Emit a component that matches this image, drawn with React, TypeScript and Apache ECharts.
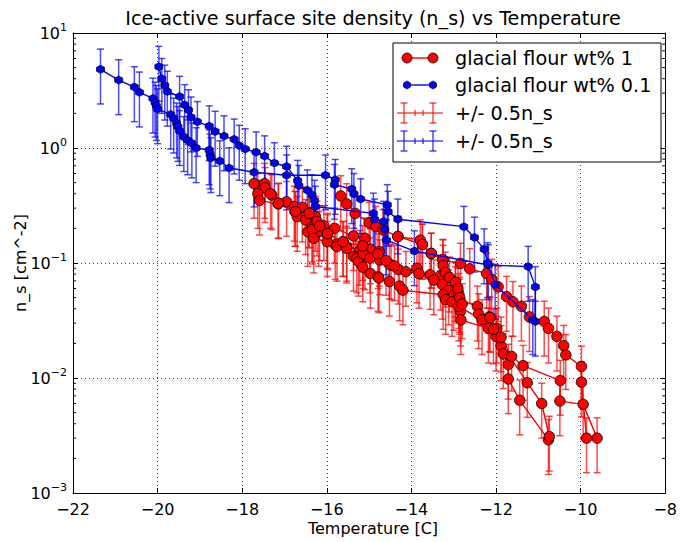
import React, { useEffect, useRef } from "react";
import * as echarts from "echarts";

const FONT = "DejaVu Sans";

// ---- axis ticks ----
const xTicks = [-22, -20, -18, -16, -14, -12, -10, -8];
const yDecades = [0.001, 0.01, 0.1, 1, 10];
const yMinorTicks: number[] = [];
for (let d = 0; d < yDecades.length - 1; d++) {
  for (let m = 2; m <= 9; m++) yMinorTicks.push(m * yDecades[d]);
}

// ---- glacial flour wt% 0.1 (blue) runs ----
const blueA_T = [-19.97, -19.9, -19.83, -19.77, -19.48, -19.36, -19.27, -19.21, -19.06, -18.78, -18.64, -18.43, -18.19, -18.07, -17.93, -17.67, -17.47, -17.24, -16.95, -16.69, -16.66, -16.46, -16.35, -16.29, -16.27, -14.9, -14.87, -14.66, -14.63, -14.59, -13.93, -12.18, -11.24, -11.07, -11.07];
const blueA_N = [5.1, 4.0, 3.5, 3.1, 2.8, 2.37, 2.14, 1.85, 1.69, 1.55, 1.39, 1.27, 1.19, 1.05, 0.98, 0.92, 0.85, 0.74, 0.69, 0.52, 0.47, 0.43, 0.39, 0.35, 0.31, 0.27, 0.24, 0.229, 0.196, 0.158, 0.127, 0.096, 0.093, 0.062, 0.031];

const blueB_T = [-21.35, -20.92, -20.55, -20.43, -20.11, -20.06, -20.03, -20.0, -19.69, -19.62, -19.55, -19.52, -19.48, -19.38, -19.29, -19.19, -19.09, -18.78, -18.76, -18.74, -18.53, -18.31, -17.72, -16.95, -16.03, -15.8, -15.82, -15.41, -15.36, -15.2, -14.57, -14.55, -14.32, -12.76, -12.51, -12.28, -12.2, -12.02, -11.13];
const blueB_N = [4.83, 3.9, 3.39, 3.05, 2.7, 2.49, 2.33, 2.18, 1.96, 1.81, 1.64, 1.53, 1.41, 1.25, 1.17, 1.1, 1.0, 0.96, 0.88, 0.82, 0.77, 0.67, 0.615, 0.58, 0.58, 0.53, 0.48, 0.44, 0.4, 0.36, 0.32, 0.28, 0.24, 0.207, 0.167, 0.132, 0.1, 0.065, 0.032];

// ---- glacial flour wt% 1 (red) runs ----
const redA_T = [-15.67, -15.53, -15.33, -15.0, -14.84, -14.67, -14.32, -13.79, -13.74, -13.53, -13.25, -12.84, -12.62, -12.22, -12.1, -11.95, -11.75, -11.6, -11.4, -11.21, -10.86, -10.76, -10.56, -10.4, -10.35, -9.98, -9.98, -9.86];
const redA_N = [0.383, 0.326, 0.27, 0.224, 0.207, 0.194, 0.17, 0.158, 0.145, 0.121, 0.106, 0.099, 0.089, 0.081, 0.072, 0.062, 0.051, 0.046, 0.042, 0.034, 0.031, 0.027, 0.023, 0.0191, 0.0159, 0.0126, 0.0092, 0.003];

const redB_T = [-17.72, -17.47, -17.46, -17.3, -16.95, -16.77, -16.58, -16.42, -16.27, -16.07, -15.82, -15.37, -15.1, -14.97, -14.76, -14.48, -14.31, -14.13, -13.87, -13.82, -13.56, -13.31, -12.96, -12.86, -12.44, -12.41, -12.16, -11.98, -11.88, -11.83, -11.71, -11.71, -11.44, -10.76];
const redB_N = [0.49, 0.49, 0.45, 0.39, 0.341, 0.31, 0.305, 0.274, 0.253, 0.21, 0.2, 0.172, 0.164, 0.132, 0.126, 0.096, 0.088, 0.084, 0.09, 0.081, 0.079, 0.078, 0.062, 0.048, 0.042, 0.036, 0.034, 0.027, 0.019, 0.0162, 0.0131, 0.0098, 0.0064, 0.0029];

const redC_T = [-17.63, -17.59, -17.15, -16.75, -16.7, -16.5, -16.35, -16.19, -15.99, -15.8, -15.61, -15.53, -15.22, -15.1, -14.75, -14.52, -13.47, -13.27, -13.12, -13.0, -12.88, -12.84, -12.83, -12.18, -12.0, -11.26, -10.92, -10.74];
const redC_N = [0.4, 0.35, 0.326, 0.279, 0.253, 0.237, 0.204, 0.187, 0.175, 0.144, 0.153, 0.139, 0.128, 0.117, 0.106, 0.0975, 0.071, 0.065, 0.058, 0.052, 0.054, 0.038, 0.032, 0.027, 0.023, 0.0091, 0.006, 0.0031];

const redD_T = [-16.45, -16.34, -16.31, -15.99, -15.76, -15.53, -15.37, -15.29, -15.25, -15.14, -15.15, -14.98, -14.97, -14.79, -14.77, -14.52, -14.28, -14.2, -13.25, -13.19, -13.04, -12.88, -12.33, -12.14, -12.06, -11.88, -11.63, -11.36, -10.48, -10.49, -9.94, -9.61];
const redD_N = [0.187, 0.196, 0.164, 0.153, 0.139, 0.134, 0.114, 0.11, 0.103, 0.12, 0.092, 0.11, 0.081, 0.076, 0.074, 0.069, 0.063, 0.058, 0.053, 0.048, 0.046, 0.042, 0.032, 0.0335, 0.0266, 0.0226, 0.0154, 0.0128, 0.0095, 0.0063, 0.0059, 0.003];

const redE_T = [-14.32, -13.74, -13.53, -13.26, -13.25, -13.2, -13.1, -12.96, -12.9, -12.86, -12.8];
const redE_N = [0.17, 0.145, 0.121, 0.107, 0.095, 0.083, 0.075, 0.068, 0.06, 0.05, 0.044];

const redF_T = [-17.33, -17.14, -16.74, -16.42, -16.23, -16.17, -15.98, -15.62, -15.15, -14.79, -14.6, -14.4];
const redF_N = [0.4, 0.33, 0.28, 0.27, 0.23, 0.21, 0.18, 0.153, 0.141, 0.12, 0.105, 0.094];

const redRuns = [
  [redA_T, redA_N],
  [redB_T, redB_N],
  [redC_T, redC_N],
  [redD_T, redD_N],
  [redE_T, redE_N],
  [redF_T, redF_N],
];
const blueRuns = [
  [blueA_T, blueA_N],
  [blueB_T, blueB_N],
];

const legendLabels = ["glacial flour wt% 1", "glacial flour wt% 0.1", "+/- 0.5n_s", "+/- 0.5n_s"];

const RED = "#ff0000";
const BLUE = "#0000ff";
const RED_ERR = "rgba(255,0,0,0.7)";
const BLUE_ERR = "rgba(0,0,255,0.7)";
const HEX = "path://M0,-10 L8.66,-5 L8.66,5 L0,10 L-8.66,5 L-8.66,-5 Z";

const toPairs = (T: number[], N: number[]) => T.map((t, i) => [t, N[i]]);

function errRender(color: string) {
  return (params: any, api: any) => {
    const x = api.value(0);
    const y = api.value(1);
    const c = api.coord([x, y]);
    const lo = api.coord([x, y * 0.5]);
    const hi = api.coord([x, y * 1.5]);
    const w = 3.5;
    const style = { stroke: color, lineWidth: 1.5 };
    return {
      type: "group",
      children: [
        { type: "line", shape: { x1: c[0], y1: lo[1], x2: c[0], y2: hi[1] }, style },
        { type: "line", shape: { x1: c[0] - w, y1: lo[1], x2: c[0] + w, y2: lo[1] }, style },
        { type: "line", shape: { x1: c[0] - w, y1: hi[1], x2: c[0] + w, y2: hi[1] }, style },
      ],
    };
  };
}

function minorRender(params: any, api: any) {
  const v = api.value(1);
  const p = api.coord([-22, v]);
  const cs = params.coordSys;
  const style = { stroke: "#000", lineWidth: 1 };
  return {
    type: "group",
    children: [
      { type: "line", shape: { x1: cs.x, y1: p[1], x2: cs.x + 3, y2: p[1] }, style },
      { type: "line", shape: { x1: cs.x + cs.width - 3, y1: p[1], x2: cs.x + cs.width, y2: p[1] }, style },
    ],
  };
}

function hexPoints(cx: number, cy: number, r: number) {
  const pts: number[][] = [];
  for (let k = 0; k < 6; k++) {
    const a = -Math.PI / 2 + (k * Math.PI) / 3;
    pts.push([cx + r * Math.cos(a), cy + r * Math.sin(a)]);
  }
  return pts;
}

function errHandle(y: number, color: string) {
  const s = { stroke: color, lineWidth: 1.5 };
  const els: any[] = [
    { type: "line", shape: { x1: 397, y1: y, x2: 443, y2: y }, style: s },
  ];
  for (const x of [404, 433]) {
    els.push({ type: "line", shape: { x1: x, y1: y - 10, x2: x, y2: y + 10 }, style: s });
    els.push({ type: "line", shape: { x1: x - 3.5, y1: y - 10, x2: x + 3.5, y2: y - 10 }, style: s });
    els.push({ type: "line", shape: { x1: x - 3.5, y1: y + 10, x2: x + 3.5, y2: y + 10 }, style: s });
  }
  for (const x of [415, 423]) {
    els.push({ type: "line", shape: { x1: x, y1: y - 3, x2: x, y2: y + 3 }, style: s });
  }
  return els;
}

export default function App() {
  const ref = useRef<HTMLDivElement>(null);
  useEffect(() => {
    if (!ref.current) return;
    const chart = echarts.init(ref.current, null, { renderer: "svg" });
    const grid = { left: 73, top: 33, width: 600, height: 460 };
    const split = { show: true, lineStyle: { color: "#444", width: 1, type: [1, 3] } };
    const axLine = { show: true, onZero: false, lineStyle: { color: "#000", width: 1 } };

    const redAll: number[][] = [];
    redRuns.forEach(([T, N]) => redAll.push(...toPairs(T, N)));
    const blueAll: number[][] = [];
    blueRuns.forEach(([T, N]) => blueAll.push(...toPairs(T, N)));

    const series: any[] = [
      {
        type: "custom",
        name: "minor",
        renderItem: minorRender,
        data: yMinorTicks.map((v) => [-22, v]),
        encode: { x: 0, y: 1 },
        silent: true,
        z: 1,
      },
      {
        type: "custom",
        name: "+/- 0.5n_s red",
        renderItem: errRender(RED_ERR),
        data: redAll,
        encode: { x: 0, y: 1 },
        silent: true,
        clip: true,
        z: 2,
      },
      {
        type: "custom",
        name: "+/- 0.5n_s blue",
        renderItem: errRender(BLUE_ERR),
        data: blueAll,
        encode: { x: 0, y: 1 },
        silent: true,
        clip: true,
        z: 3,
      },
    ];
    redRuns.forEach(([T, N]) => {
      series.push({
        type: "line",
        name: legendLabels[0],
        data: toPairs(T, N),
        symbol: "circle",
        symbolSize: 10.5,
        showSymbol: true,
        lineStyle: { color: RED, width: 1.4 },
        itemStyle: { color: RED, borderColor: "#000", borderWidth: 0.8 },
        silent: true,
        z: 4,
      });
    });
    blueRuns.forEach(([T, N]) => {
      series.push({
        type: "line",
        name: legendLabels[1],
        data: toPairs(T, N),
        symbol: HEX,
        symbolSize: 8,
        showSymbol: true,
        lineStyle: { color: BLUE, width: 1.4 },
        itemStyle: { color: BLUE, borderColor: "#000", borderWidth: 0.7 },
        silent: true,
        z: 5,
      });
    });

    const rowY = [58, 85, 113, 141];
    const graphic: any[] = [
      {
        type: "text",
        x: 373,
        y: 18,
        style: { text: "Ice-active surface site density (n_s) vs Temperature", font: `19.2px '${FONT}'`, fill: "#000", align: "center", verticalAlign: "middle" },
      },
      {
        type: "text",
        x: 373,
        y: 528,
        style: { text: "Temperature [C]", font: `16px '${FONT}'`, fill: "#000", align: "center", verticalAlign: "middle" },
      },
      {
        type: "text",
        x: 20,
        y: 263,
        rotation: Math.PI / 2,
        style: { text: "n_s [cm^-2]", font: `16px '${FONT}'`, fill: "#000", align: "center", verticalAlign: "middle" },
      },
      {
        type: "rect",
        shape: { x: 393, y: 43, width: 268, height: 119 },
        style: { fill: "#fff", stroke: "#000", lineWidth: 1 },
        z: 20,
      },
      { type: "line", shape: { x1: 407, y1: rowY[0], x2: 433, y2: rowY[0] }, style: { stroke: RED, lineWidth: 1.4 }, z: 21 },
      { type: "circle", shape: { cx: 407, cy: rowY[0], r: 5 }, style: { fill: RED, stroke: "#000", lineWidth: 0.8 }, z: 22 },
      { type: "circle", shape: { cx: 433, cy: rowY[0], r: 5 }, style: { fill: RED, stroke: "#000", lineWidth: 0.8 }, z: 22 },
      { type: "line", shape: { x1: 407, y1: rowY[1], x2: 433, y2: rowY[1] }, style: { stroke: BLUE, lineWidth: 1.4 }, z: 21 },
      { type: "polygon", shape: { points: hexPoints(407, rowY[1], 4) }, style: { fill: BLUE, stroke: "#000", lineWidth: 0.7 }, z: 22 },
      { type: "polygon", shape: { points: hexPoints(433, rowY[1], 4) }, style: { fill: BLUE, stroke: "#000", lineWidth: 0.7 }, z: 22 },
      ...errHandle(rowY[2], RED_ERR).map((e) => ({ ...e, z: 21 })),
      ...errHandle(rowY[3], BLUE_ERR).map((e) => ({ ...e, z: 21 })),
      ...legendLabels.map((t, i) => ({
        type: "text",
        x: 455,
        y: rowY[i],
        z: 22,
        style: { text: t, font: `19.2px '${FONT}'`, fill: "#000", align: "left", verticalAlign: "middle" },
      })),
    ];

    const option: any = {
      animation: false,
      backgroundColor: "#fff",
      textStyle: { fontFamily: FONT },
      grid: { ...grid, containLabel: false },
      xAxis: [
        {
          type: "value",
          min: xTicks[0],
          max: xTicks[xTicks.length - 1],
          interval: 2,
          position: "bottom",
          axisLine: axLine,
          axisTick: { show: true, inside: true, length: 5, lineStyle: { color: "#000" } },
          axisLabel: {
            show: true,
            margin: 8,
            fontSize: 16,
            fontFamily: FONT,
            color: "#000",
            formatter: (v: number) => (v < 0 ? "\u2212" + Math.abs(v) : String(v)),
          },
          splitLine: split,
        },
        {
          type: "value",
          min: xTicks[0],
          max: xTicks[xTicks.length - 1],
          interval: 2,
          position: "top",
          axisLine: axLine,
          axisTick: { show: true, inside: true, length: 5, lineStyle: { color: "#000" } },
          axisLabel: { show: false },
          splitLine: { show: false },
        },
      ],
      yAxis: [
        {
          type: "log",
          logBase: 10,
          min: yDecades[0],
          max: yDecades[yDecades.length - 1],
          position: "left",
          axisLine: axLine,
          axisTick: { show: true, inside: true, length: 5, lineStyle: { color: "#000" } },
          axisLabel: {
            show: true,
            margin: 6,
            showMinLabel: true,
            showMaxLabel: true,
            formatter: (v: number) => {
              const e = Math.round(Math.log10(v));
              const s = (e < 0 ? "\u2212" : "") + Math.abs(e);
              return "{b|10}{s|" + s + "}";
            },
            rich: {
              b: { fontSize: 16, fontFamily: FONT, color: "#000", lineHeight: 22 },
              s: { fontSize: 11, fontFamily: FONT, color: "#000", lineHeight: 12, verticalAlign: "top" },
            },
          },
          splitLine: split,
        },
        {
          type: "log",
          logBase: 10,
          min: yDecades[0],
          max: yDecades[yDecades.length - 1],
          position: "right",
          axisLine: axLine,
          axisTick: { show: true, inside: true, length: 5, lineStyle: { color: "#000" } },
          axisLabel: { show: false },
          splitLine: { show: false },
        },
      ],
      series,
      graphic,
    };
    chart.setOption(option);
    return () => chart.dispose();
  }, []);
  return (
    <div
      ref={ref}
      style={{ position: "fixed", left: 0, top: 0, width: 680, height: 542, background: "#fff" }}
    />
  );
}
